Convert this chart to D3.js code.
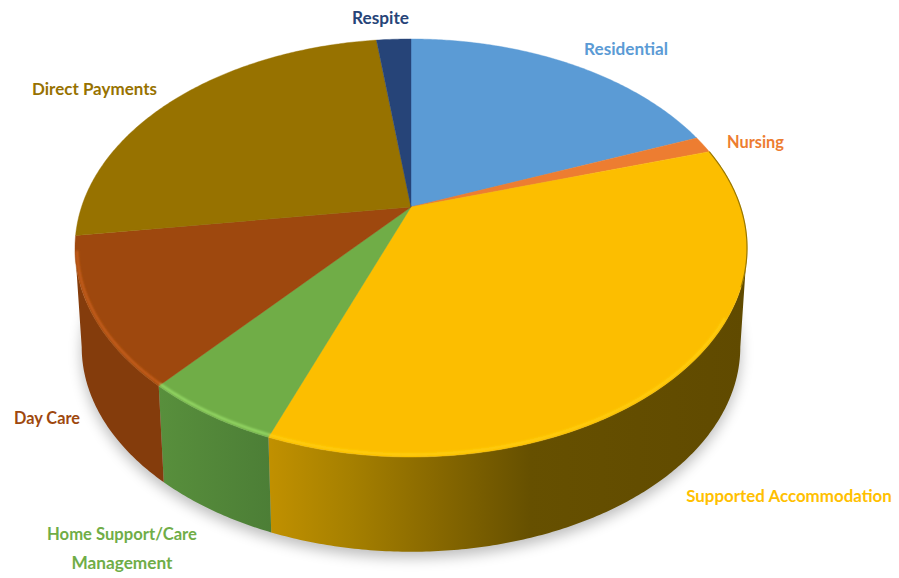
<!DOCTYPE html>
<html>
<head>
<meta charset="utf-8">
<script src="https://cdn.jsdelivr.net/npm/d3@7"></script>
<style>
  html, body { margin: 0; padding: 0; background: #fff; }
  svg { display: block; }
  text { font-family: Lato, "Open Sans", sans-serif; font-weight: 700; }
</style>
</head>
<body>
<svg id="chart" width="899" height="578"></svg>
<script>
// Share of spend by service type
const categories = ["Residential", "Nursing", "Supported Accommodation", "Home Support/Care Management", "Day Care", "Direct Payments", "Respite"];
const shares = [19.0, 1.3, 35.45, 5.55, 11.5, 25.2, 2.0];
const sliceColors = ["#5b9bd5", "#ed7d31", "#fcbe00", "#70ad47", "#9e480e", "#977200", "#264478"];
const rimColors = ["#5b9bd5", "#ed7d31", "#ffcf10", "#98dc68", "#c9601c", "#977200", "#264478"];

// Label placement: lines, centre x, baseline y, fitted width
const labelLayout = [
  { lines: ["Residential"], x: 626, y: [55], w: [84] },
  { lines: ["Nursing"], x: 755.5, y: [148], w: [57] },
  { lines: ["Supported Accommodation"], x: 789, y: [502], w: [206] },
  { lines: ["Home Support/Care", "Management"], x: 122, y: [540, 569], w: [150, 101] },
  { lines: ["Day Care"], x: 47, y: [424], w: [66] },
  { lines: ["Direct Payments"], x: 94.5, y: [95], w: [125] },
  { lines: ["Respite"], x: 380.5, y: [24], w: [57] }
];

const svg = d3.select("#chart");
const defs = svg.append("defs");

// Perspective disc: unit circle mapped on to the tilted top face
const cx = 411, apexY = 207, persp = -0.196, rise = 160.4, radiusX = 329.5;
const floorScale = 0.98, wallDrop = 99, floorPivotY = 247;
// Angles where the rim reaches its widest points on the right and left
const rightExtreme = Math.acos(persp), leftExtreme = 2 * Math.PI - rightExtreme;

function topPoint(theta) {
  const u = Math.sin(theta), v = -Math.cos(theta), w = 1 + persp * v;
  return [cx + radiusX * u / w, (rise * v + apexY) / w];
}
function floorPoint(theta) {
  const [x, y] = topPoint(theta);
  return [cx + floorScale * (x - cx), floorPivotY + wallDrop + floorScale * (y - floorPivotY)];
}
function sampleArc(fn, a0, a1) {
  const n = Math.max(2, Math.ceil(Math.abs(a1 - a0) / 0.01));
  return d3.range(n + 1).map(i => fn(a0 + (a1 - a0) * i / n));
}

const line = d3.line();
const arcs = d3.pie().sort(null).value(d => d)(shares);

defs.append("filter").attr("id", "soft")
  .attr("x", "-10%").attr("y", "-10%").attr("width", "120%").attr("height", "120%")
  .append("feGaussianBlur").attr("stdDeviation", 7);
defs.append("filter").attr("id", "bevel")
  .attr("filterUnits", "userSpaceOnUse").attr("x", 0).attr("y", 0).attr("width", 899).attr("height", 578)
  .append("feGaussianBlur").attr("stdDeviation", 1.1);
defs.append("filter").attr("id", "edge")
  .attr("filterUnits", "userSpaceOnUse").attr("x", 0).attr("y", 0).attr("width", 899).attr("height", 578)
  .append("feGaussianBlur").attr("stdDeviation", 0.5);

// Wall shading, left to right along the x axis
const wallShades = {
  2: [[271, "#c09000"], [350, "#a68000"], [430, "#8a6a00"], [530, "#665000"], [746, "#604a00"]],
  3: [[160, "#588f3c"], [271, "#4c7e36"]],
  4: [[80, "#843c0c"], [165, "#843c0c"]]
};
Object.entries(wallShades).forEach(([i, stops]) => {
  const g = defs.append("linearGradient").attr("id", "wall" + i)
    .attr("gradientUnits", "userSpaceOnUse")
    .attr("x1", stops[0][0]).attr("x2", stops[stops.length - 1][0]).attr("y1", 0).attr("y2", 0);
  const x0 = stops[0][0], x1 = stops[stops.length - 1][0];
  stops.forEach(([x, c]) => g.append("stop").attr("offset", (x - x0) / (x1 - x0)).attr("stop-color", c));
});

// Ground shadow
svg.append("path")
  .attr("d", line(sampleArc(t => {
    const [x, y] = floorPoint(t);
    return [x, y + 6];
  }, 0, 2 * Math.PI)) + "Z")
  .attr("fill", "#000").attr("opacity", 0.26).attr("filter", "url(#soft)");

// Side walls, limited to the part of each slice that faces the viewer
svg.append("g").selectAll("path")
  .data(arcs.filter(d => wallShades[d.index]))
  .join("path")
  .attr("d", d => {
    const a0 = Math.max(d.startAngle, rightExtreme), a1 = Math.min(d.endAngle, leftExtreme);
    const top = sampleArc(topPoint, a0, a1);
    const bottom = sampleArc(floorPoint, a1, a0);
    return line(top.concat(bottom)) + "Z";
  })
  .attr("fill", d => `url(#wall${d.index})`);

// Top faces
svg.append("g").selectAll("path")
  .data(arcs)
  .join("path")
  .attr("d", d => line([[cx, apexY]].concat(sampleArc(topPoint, d.startAngle, d.endAngle))) + "Z")
  .attr("fill", d => sliceColors[d.index])
  .attr("stroke", d => sliceColors[d.index])
  .attr("stroke-width", 0.4);

// Bevel highlight around the front rim
function rimPoint(theta) {
  const [x, y] = topPoint(theta);
  return [cx + 0.994 * (x - cx), apexY + 0.99 * (y - apexY)];
}
svg.append("g").attr("filter", "url(#bevel)").attr("fill", "none").selectAll("path")
  .data(arcs.filter(d => wallShades[d.index]))
  .join("path")
  .attr("d", d => {
    const a0 = Math.max(d.startAngle, 2.1), a1 = Math.min(d.endAngle, 4.5);
    return line(sampleArc(rimPoint, a0, a1));
  })
  .attr("stroke", d => rimColors[d.index])
  .attr("stroke-width", 2.4);

// Dark fine line where the right side of the rim turns away
svg.append("path")
  .attr("d", line(sampleArc(topPoint, arcs[2].startAngle, 1.95)))
  .attr("fill", "none").attr("stroke", "#9a7800").attr("stroke-width", 1.2)
  .attr("filter", "url(#edge)");

// Category labels, each sized so its natural width fills the fitted width
const labels = svg.append("g").attr("text-anchor", "middle");
labelLayout.forEach((lab, i) => {
  lab.lines.forEach((t, j) => {
    const label = labels.append("text")
      .attr("x", lab.x).attr("y", lab.y[j])
      .style("font-size", "19px")
      .attr("fill", sliceColors[i] === "#fcbe00" ? "#ffc000" : sliceColors[i])
      .text(t);
    const natural = label.node().getComputedTextLength();
    label.style("font-size", (19 * lab.w[j] / natural) + "px");
  });
});
</script>
</body>
</html>
